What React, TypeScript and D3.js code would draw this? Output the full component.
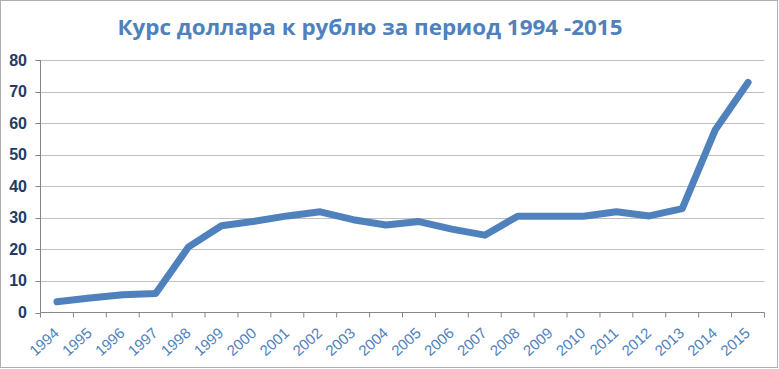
import * as d3 from "d3";

// Курс доллара к рублю, 1994-2015
const years = ["1994", "1995", "1996", "1997", "1998", "1999", "2000", "2001", "2002", "2003", "2004",
  "2005", "2006", "2007", "2008", "2009", "2010", "2011", "2012", "2013", "2014", "2015"];
const rates = [3.4, 4.6, 5.6, 6.0, 20.8, 27.5, 28.9, 30.6, 31.9, 29.4, 27.7,
  28.8, 26.4, 24.5, 30.5, 30.5, 30.5, 31.9, 30.6, 32.9, 57.8, 72.9];
const yTicks = [0, 10, 20, 30, 40, 50, 60, 70, 80];

const width = 779;
const height = 369;
const left = 40.5;
const right = 764.5;
const top = 60;
const bottom = 312.5;

export default function App() {
  const x = d3.scaleBand<string>().domain(years).range([left, right]);
  const y = d3.scaleLinear().domain([0, 80]).range([bottom, top]);
  const line = d3.line<number>()
    .x((_, i) => (x(years[i]) ?? 0) + x.bandwidth() / 2)
    .y((d) => y(d));

  return (
    <svg width={width} height={height} style={{ position: "absolute", left: 0, top: 0 }}>
      <rect x={0.5} y={0.5} width={777} height={367} fill="white" stroke="#b0b0b0" />
      <text x={370} y={35} textAnchor="middle" fontFamily="'Open Sans', sans-serif" fontWeight="bold"
        fontSize={21} fill="#4f81bd" textLength={505} lengthAdjust="spacingAndGlyphs">
        Курс доллара к рублю за период 1994 -2015
      </text>
      {yTicks.map((t) => (
        <g key={t}>
          {t > 0 && <line x1={left} x2={right} y1={Math.round(y(t)) + 0.5} y2={Math.round(y(t)) + 0.5} stroke="#c0c0c0" />}
          <line x1={left - 5} x2={left} y1={Math.round(y(t)) + 0.5} y2={Math.round(y(t)) + 0.5} stroke="#868686" />
          <text x={27} y={y(t) + 5.5} textAnchor="end" fontFamily="Arial, 'Liberation Sans', sans-serif"
            fontWeight="bold" fontSize={16} fill="#1f3b64">{t}</text>
        </g>
      ))}
      <line x1={left} x2={left} y1={top} y2={bottom} stroke="#868686" />
      <line x1={left} x2={right} y1={bottom} y2={bottom} stroke="#868686" />
      {years.map((yr, i) => (
        <line key={"t" + yr} x1={left + i * x.step()} x2={left + i * x.step()} y1={bottom} y2={bottom + 5} stroke="#868686" />
      ))}
      <line x1={right} x2={right} y1={bottom} y2={bottom + 5} stroke="#868686" />
      {years.map((yr) => {
        const cx = (x(yr) ?? 0) + x.bandwidth() / 2 + 3;
        const cy = bottom + 22;
        return (
          <text key={yr} x={cx} y={cy} transform={`rotate(-42, ${cx}, ${cy})`} textAnchor="end"
            fontFamily="Arial, 'Liberation Sans', sans-serif" fontSize={15} fill="#4f81bd">{yr}</text>
        );
      })}
      <path d={line(rates) ?? ""} fill="none" stroke="#4f81bd" strokeWidth={7} strokeLinejoin="round" strokeLinecap="round" />
    </svg>
  );
}
